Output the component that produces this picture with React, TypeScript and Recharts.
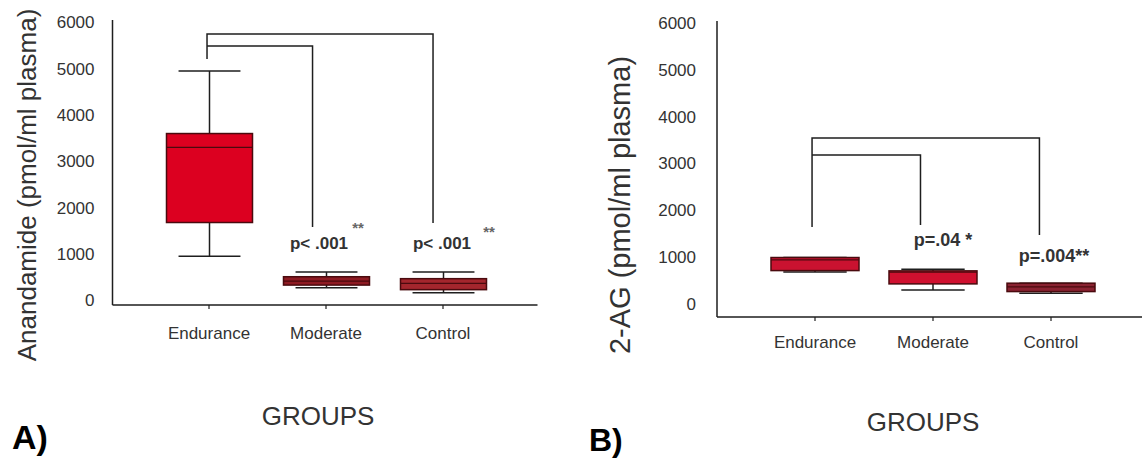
import React from "react";
import { ComposedChart, Bar, Line, XAxis, YAxis } from "recharts";

const FONT = "'Liberation Sans', Arial, Helvetica, sans-serif";

// ---------- data ----------
const CATEGORIES = ["Endurance", "Moderate", "Control"];
const Y_TICKS = [0, 1000, 2000, 3000, 4000, 5000, 6000];

// Panel A: Anandamide
const A_MIN = [950, 274, 166];
const A_Q1 = [1680, 330, 231];
const A_MEDIAN = [3300, 417, 367];
const A_Q3 = [3600, 510, 468];
const A_MAX = [4950, 611, 611];
const A_BRACKET_OUTER = [
  { x: -0.017, y: 5208 },
  { x: -0.017, y: 5748 },
  { x: 1.915, y: 5748 },
  { x: 1.915, y: 1669 },
];
const A_BRACKET_INNER = [
  { x: -0.017, y: 5489 },
  { x: 0.885, y: 5489 },
  { x: 0.885, y: 1583 },
];

// Panel B: 2-AG
const B_MIN = [680, 299, 228];
const B_Q1 = [711, 427, 263];
const B_MEDIAN = [940, 680, 363];
const B_Q3 = [990, 705, 442];
const B_MAX = [990, 741, 442];
const B_BRACKET_OUTER = [
  { x: -0.025, y: 1642 },
  { x: -0.025, y: 3542 },
  { x: 1.902, y: 3542 },
  { x: 1.902, y: 1471 },
];
const B_BRACKET_INNER = [
  { x: -0.025, y: 3179 },
  { x: 0.894, y: 3179 },
  { x: 0.894, y: 1684 },
];

const buildRows = (mins: number[], q1: number[], med: number[], q3: number[], max: number[]) =>
  CATEGORIES.map((group, i) => ({
    group,
    min: mins[i],
    q1: q1[i],
    median: med[i],
    q3: q3[i],
    max: max[i],
  }));

const ROWS_A = buildRows(A_MIN, A_Q1, A_MEDIAN, A_Q3, A_MAX);
const ROWS_B = buildRows(B_MIN, B_Q1, B_MEDIAN, B_Q3, B_MAX);

const FILLS_A = ["#DC0020", "#8E1B23", "#A3262D"];
const FILLS_B = ["#CA1230", "#D0102F", "#8A2231"];
const BOX_STROKE = "#4A0A0E";
const INK = "#1e1e1e";

const makeBoxShape = (fills: string[]) => (props: any) => {
  const { x, y, width, height, payload, index } = props;
  if (x == null || y == null || !payload) return <g />;
  const top = Math.min(y, y + height);
  const bottom = Math.max(y, y + height);
  const h = bottom - top;
  const span = payload.max - payload.min;
  const px = (v: number) => (span === 0 ? top : top + ((payload.max - v) / span) * h);
  const cx = x + width / 2;
  const capW = width * 0.72;
  const yq3 = px(payload.q3);
  const yq1 = px(payload.q1);
  const ymed = px(payload.median);
  return (
    <g>
      <line x1={cx} x2={cx} y1={top} y2={bottom} stroke={INK} strokeWidth={1.5} />
      <line x1={cx - capW / 2} x2={cx + capW / 2} y1={top} y2={top} stroke={INK} strokeWidth={1.5} />
      <line x1={cx - capW / 2} x2={cx + capW / 2} y1={bottom} y2={bottom} stroke={INK} strokeWidth={1.5} />
      <rect
        x={x}
        y={yq3}
        width={width}
        height={Math.max(yq1 - yq3, 1)}
        fill={fills[index % fills.length]}
        stroke={BOX_STROKE}
        strokeWidth={1.5}
      />
      <line x1={x} x2={x + width} y1={ymed} y2={ymed} stroke={BOX_STROKE} strokeWidth={1.2} />
    </g>
  );
};

type PanelProps = {
  left: number;
  width: number;
  height: number;
  yAxisWidth: number;
  margin: { top: number; right: number; bottom: number; left: number };
  rows: any[];
  fills: string[];
  yDomain: [number, number];
  catPad: { left: number; right: number };
  numDomain: [number, number];
  brackets: { x: number; y: number }[][];
  xTickMargin: number;
  yTickMargin: number;
  barSize: number;
};

function Panel(p: PanelProps) {
  const axisStyle = { stroke: INK, strokeWidth: 1.5 };
  return (
    <div style={{ position: "absolute", left: p.left, top: 0, width: p.width, height: p.height }}>
      <ComposedChart width={p.width} height={p.height} data={p.rows} margin={p.margin}>
        <XAxis
          xAxisId="cat"
          dataKey="group"
          type="category"
          padding={p.catPad}
          height={40}
          axisLine={axisStyle}
          tickLine={{ stroke: INK, strokeWidth: 1.2 }}
          tickSize={4}
          tickMargin={p.xTickMargin}
          tick={{ fontSize: 17, fill: "#333", fontFamily: FONT }}
          interval={0}
        />
        <XAxis xAxisId="num" dataKey="x" type="number" domain={p.numDomain} hide allowDataOverflow />
        <XAxis
          xAxisId="top"
          orientation="top"
          type="number"
          domain={[0, 1]}
          height={0}
          tick={false}
          tickLine={false}
          axisLine={axisStyle}
        />
        <YAxis
          yAxisId="main"
          type="number"
          domain={p.yDomain}
          ticks={Y_TICKS}
          width={p.yAxisWidth}
          axisLine={axisStyle}
          tickLine={false}
          tickSize={0}
          tickMargin={p.yTickMargin}
          tick={{ fontSize: 17, fill: "#333", fontFamily: FONT }}
          allowDataOverflow
        />
        <YAxis
          yAxisId="right"
          orientation="right"
          type="number"
          domain={[0, 1]}
          width={0}
          tick={false}
          tickLine={false}
          axisLine={axisStyle}
        />
        <Bar
          xAxisId="cat"
          yAxisId="main"
          dataKey={(d: any) => [d.min, d.max]}
          barSize={p.barSize}
          shape={makeBoxShape(p.fills)}
          isAnimationActive={false}
        />
        {p.brackets.map((b, i) => (
          <Line
            key={i}
            xAxisId="num"
            yAxisId="main"
            data={b}
            dataKey="y"
            type="linear"
            stroke={INK}
            strokeWidth={1.5}
            dot={false}
            activeDot={false}
            isAnimationActive={false}
          />
        ))}
      </ComposedChart>
    </div>
  );
}

export default function App() {
  const txt = { fontFamily: FONT, fill: "#333" } as const;
  return (
    <div
      style={{
        position: "absolute",
        left: 0,
        top: 0,
        width: 1142,
        height: 459,
        overflow: "hidden",
        background: "#fff",
      }}
    >
      <Panel
        left={0}
        width={560}
        height={459}
        yAxisWidth={112.5}
        margin={{ top: 20, right: 22.5, bottom: 114, left: 0 }}
        rows={ROWS_A}
        fills={FILLS_A}
        yDomain={[-100, 6050]}
        catPad={{ left: 38, right: 36 }}
        numDomain={[-0.825, 2.808]}
        brackets={[A_BRACKET_OUTER, A_BRACKET_INNER]}
        xTickMargin={18}
        yTickMargin={18}
        barSize={86}
      />
      <Panel
        left={580}
        width={580}
        height={459}
        yAxisWidth={137}
        margin={{ top: 21, right: 13, bottom: 102, left: 0 }}
        rows={ROWS_B}
        fills={FILLS_B}
        yDomain={[-280, 6040]}
        catPad={{ left: 39, right: 37 }}
        numDomain={[-0.8305, 2.8136]}
        brackets={[B_BRACKET_OUTER, B_BRACKET_INNER]}
        xTickMargin={15}
        yTickMargin={21}
        barSize={88}
      />
      <svg
        width={1142}
        height={459}
        style={{ position: "absolute", left: 0, top: 0, pointerEvents: "none" }}
      >
        {/* axis titles */}
        <text
          {...txt}
          fontSize={26}
          textAnchor="middle"
          dominantBaseline="central"
          transform="translate(27,185) rotate(-90)"
        >
          Anandamide (pmol/ml plasma)
        </text>
        <text
          {...txt}
          fontSize={29}
          textAnchor="middle"
          dominantBaseline="central"
          transform="translate(620,205) rotate(-90)"
        >
          2-AG (pmol/ml plasma)
        </text>
        <text {...txt} fontSize={26} textAnchor="middle" x={318} y={425}>
          GROUPS
        </text>
        <text {...txt} fontSize={26} textAnchor="middle" x={923} y={431}>
          GROUPS
        </text>
        {/* panel letters */}
        <text fontFamily={FONT} fill="#000" fontWeight="bold" fontSize={34} x={12} y={449}>
          A)
        </text>
        <text fontFamily={FONT} fill="#000" fontWeight="bold" fontSize={32} x={589} y={451}>
          B)
        </text>
        {/* significance labels */}
        <text {...txt} fontWeight="bold" fontSize={17} textAnchor="middle" x={319} y={249}>
          p&lt; .001
        </text>
        <text {...txt} fontWeight="bold" fontSize={17} textAnchor="middle" x={442} y={249}>
          p&lt; .001
        </text>
        <text fontFamily={FONT} fill="#666" fontWeight="bold" fontSize={15} textAnchor="middle" x={358} y={233}>
          **
        </text>
        <text fontFamily={FONT} fill="#666" fontWeight="bold" fontSize={15} textAnchor="middle" x={489} y={237}>
          **
        </text>
        <text {...txt} fontWeight="bold" fontSize={18} textAnchor="middle" x={943} y={246}>
          p=.04 *
        </text>
        <text {...txt} fontWeight="bold" fontSize={18} textAnchor="middle" x={1054} y={262}>
          p=.004**
        </text>
      </svg>
    </div>
  );
}
